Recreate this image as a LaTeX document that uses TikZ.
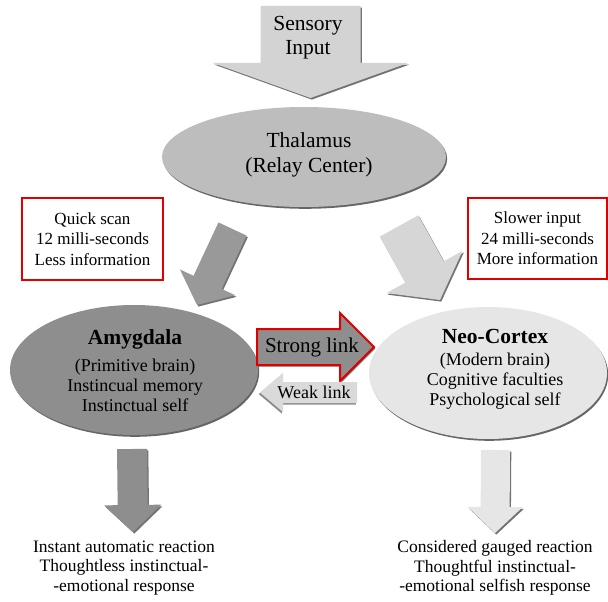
\documentclass[tikz,border=0pt]{standalone}
\usepackage{fontspec}
\setmainfont{Liberation Serif}
\usetikzlibrary{calc,shapes.geometric,shadows}
\definecolor{sensfill}{HTML}{D3D3D3}
\definecolor{thalfill}{HTML}{BDBDBD}
\definecolor{darkfill}{HTML}{8E8E8E}
\definecolor{diagdark}{HTML}{999999}
\definecolor{diaglight}{HTML}{D6D6D6}
\definecolor{neofill}{HTML}{E6E6E6}
\definecolor{weakfill}{HTML}{DADADA}
\definecolor{boxred}{HTML}{E00000}
% #1 start, #2 tip, #3 shaft half width, #4 head half width, #5 head length, #6 style
\newcommand\blkarrow[6]{%
  \coordinate (ba-b) at ($(#2)!#5!(#1)$);
  \path[#6] ($(#1)!#3!90:(#2)$) -- ($(ba-b)!#3!-90:(#1)$) -- ($(ba-b)!#4!-90:(#1)$)
    -- (#2) -- ($(ba-b)!#4!90:(#1)$) -- ($(ba-b)!#3!90:(#1)$) -- ($(#1)!#3!-90:(#2)$) -- cycle;
}
\begin{document}
\begin{tikzpicture}[x=1pt,y=-1pt,
  arrowshadow/.style={fill=black!55, transform canvas={shift={(1.3pt,-1.6pt)}}},
  ellshadow/.style={drop shadow={shadow xshift=1.2pt, shadow yshift=-1.8pt, fill=black!70, opacity=0.85}},
  brainell/.style={ellipse, inner sep=0pt, ellshadow},
  bigtxt/.style={align=center, inner sep=0pt, font=\fontsize{21.5}{24}\selectfont},
  bodytxt/.style={align=center, inner sep=0pt, font=\fontsize{18}{20}\selectfont},
  boxtxt/.style={align=center, inner sep=0pt, font=\fontsize{17}{20.5}\selectfont},
  redbox/.style={draw=boxred, line width=1.5pt, fill=white, align=center, inner sep=0pt,
    font=\fontsize{17}{20.5}\selectfont},
  outtxt/.style={align=center, inner sep=0pt, font=\fontsize{17.5}{19.5}\selectfont}]
\useasboundingbox (0,0) rectangle (608,602);
\fill[white] (0,0) rectangle (608,602);

% Sensory input arrow
\coordinate (sens-s) at (310.5,6);
\coordinate (sens-t) at (310.5,98);
\blkarrow{sens-s}{sens-t}{50pt}{97.5pt}{35pt}{arrowshadow}
\blkarrow{sens-s}{sens-t}{50pt}{97.5pt}{35pt}{fill=sensfill}
\node[bigtxt] (sensory) at (308,38) {Sensory\\Input};

% Thalamus
\node[brainell, fill=thalfill, minimum width=284pt, minimum height=100pt] (thalamus) at (304,157) {};
\node[bigtxt, font=\fontsize{21.5}{25}\selectfont] (thaltext) at (309,155) {Thalamus\\(Relay Center)};

% red info boxes
\node[redbox, minimum width=141pt, minimum height=82pt] (quick) at (92.5,239) {Quick scan\\12 milli-seconds\\Less information};
\node[redbox, minimum width=139pt, minimum height=81pt] (slow) at (537.5,238.5) {Slower input\\24 milli-seconds\\More information};

% diagonal arrows
\coordinate (ldiag-s) at (232.5,229);
\coordinate (ldiag-t) at (197,305);
\blkarrow{ldiag-s}{ldiag-t}{15.5pt}{30.5pt}{25pt}{arrowshadow}
\blkarrow{ldiag-s}{ldiag-t}{15.5pt}{30.5pt}{25pt}{fill=diagdark}
\coordinate (rdiag-s) at (399,226);
\coordinate (rdiag-t) at (440,300);
\blkarrow{rdiag-s}{rdiag-t}{22pt}{43.5pt}{32pt}{arrowshadow}
\blkarrow{rdiag-s}{rdiag-t}{22pt}{43.5pt}{32pt}{fill=diaglight}

% Amygdala and Neo-Cortex
\node[brainell, fill=darkfill, minimum width=248pt, minimum height=130pt] (amygdala) at (134,370) {};
\node[bodytxt] (amytext) at (135,371) {{\fontsize{21.5}{24}\selectfont\bfseries Amygdala}\\[7pt](Primitive brain)\\Instincual memory\\Instinctual self};
\node[brainell, fill=neofill, minimum width=238pt, minimum height=132pt] (neocortex) at (488,373) {};
\node[bodytxt] (neotext) at (495,369) {{\fontsize{21.5}{24}\selectfont\bfseries Neo-Cortex}\\[2pt](Modern brain)\\Cognitive faculties\\Psychological self};

% strong link
\coordinate (strong-s) at (257,347);
\coordinate (strong-t) at (374,347);
\blkarrow{strong-s}{strong-t}{18pt}{34pt}{34pt}{arrowshadow}
\blkarrow{strong-s}{strong-t}{18pt}{34pt}{34pt}{fill=darkfill, draw=boxred, line width=2pt, line join=miter}
\node[bigtxt, font=\fontsize{21}{24}\selectfont] (strongtext) at (312,347) {Strong link};

% weak link
\coordinate (weak-s) at (357,392.5);
\coordinate (weak-t) at (260,392.5);
\blkarrow{weak-s}{weak-t}{10.5pt}{19.5pt}{23pt}{fill=black!45, transform canvas={shift={(-1.2pt,-1.6pt)}}}
\blkarrow{weak-s}{weak-t}{10.5pt}{19.5pt}{23pt}{fill=weakfill}
\node[bodytxt] (weaktext) at (314,392) {Weak link};

% output arrows
\coordinate (lout-s) at (132,449);
\coordinate (lout-t) at (133,532);
\blkarrow{lout-s}{lout-t}{15pt}{28.5pt}{27pt}{arrowshadow}
\blkarrow{lout-s}{lout-t}{15pt}{28.5pt}{27pt}{fill=darkfill}
\coordinate (rout-s) at (495.5,450);
\coordinate (rout-t) at (495,533);
\blkarrow{rout-s}{rout-t}{14.5pt}{27.5pt}{26pt}{arrowshadow}
\blkarrow{rout-s}{rout-t}{14.5pt}{27.5pt}{26pt}{fill=neofill}

% output texts
\node[outtxt] (lout) at (124,568) {Instant automatic reaction\\Thoughtless instinctual-\\-emotional response};
\node[outtxt] (rout) at (495,568) {Considered gauged reaction\\Thoughtful instinctual-\\-emotional selfish response};
\end{tikzpicture}
\end{document}
